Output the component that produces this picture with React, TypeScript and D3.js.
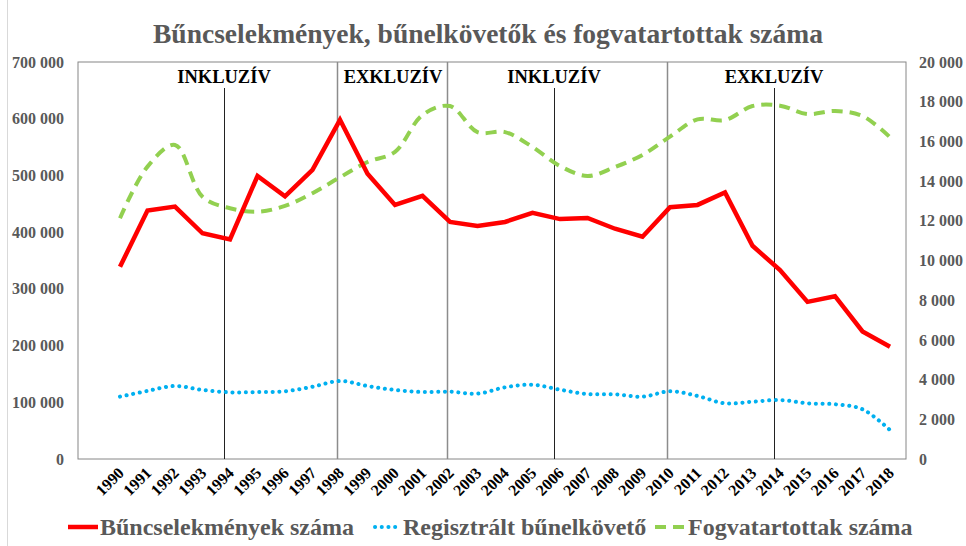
import React from 'react';
import * as d3 from 'd3';

// years on the x axis
const years = d3.range(1990, 2019).map(String);

// Bűncselekmények száma (left axis)
const crimes = [339000, 438000, 445000, 398000, 387000, 499000, 463000, 510000, 598000, 503000,
  448000, 464000, 418000, 411000, 418000, 434000, 423000, 425000, 406000, 392000,
  444000, 448000, 470000, 376000, 333000, 277000, 287000, 225000, 198000];

// Regisztrált bűnelkövető (left axis)
const offenders = [110000, 120000, 128700, 121700, 117600, 118100, 119400, 127500, 137500, 128700,
  121700, 118100, 118700, 115200, 126400, 131000, 122200, 114600, 114100, 109900,
  119400, 111100, 98200, 101000, 104000, 98200, 96500, 87600, 51000];

// Fogvatartottak száma (right axis)
const prisoners = [12130, 14730, 15820, 13210, 12630, 12460, 12750, 13390, 14190, 14960,
  15470, 17330, 17780, 16470, 16470, 15720, 14760, 14260, 14710, 15320,
  16240, 17110, 17080, 17780, 17800, 17380, 17530, 17280, 16210];

const leftTicks = [0, 100000, 200000, 300000, 400000, 500000, 600000, 700000];
const rightTicks = [0, 2000, 4000, 6000, 8000, 10000, 12000, 14000, 16000, 18000, 20000];

// vertical separators
const majorLines = ['1998', '2002', '2010'];
const minorLines = ['1994', '2006', '2014'];
const periods = [
  { label: 'INKLUZÍV', at: '1994' },
  { label: 'EXKLUZÍV', at: '1998' },
  { label: 'INKLUZÍV', at: '2006' },
  { label: 'EXKLUZÍV', at: '2014' },
];

const title = 'Bűncselekmények, bűnelkövetők és fogvatartottak száma';
const serif = '"Liberation Serif", "Times New Roman", serif';
const gray = '#595959';

const plot = { left: 78, right: 906, top: 62, bottom: 459 };

export default function App() {
  const x = d3.scalePoint().domain(years).range([120, 890]);
  const yL = d3.scaleLinear().domain([0, 700000]).range([plot.bottom, plot.top]);
  const yR = d3.scaleLinear().domain([0, 20000]).range([plot.bottom, plot.top]);
  const fmt = (v: number) => d3.format(',')(v).replace(/,/g, ' ');
  const txt = (size: number, color: string) => ({ fontFamily: serif, fontWeight: 'bold' as const, fontSize: size, fill: color });

  const redLine = d3.line<number>().x((_, i) => x(years[i])!).y(d => yL(d))(crimes)!;
  const blueLine = d3.line<number>().x((_, i) => x(years[i])!).y(d => yL(d))
    .curve(d3.curveCatmullRom.alpha(0.5))(offenders)!;
  const greenLine = d3.line<number>().x((_, i) => x(years[i])!).y(d => yR(d))
    .curve(d3.curveCatmullRom.alpha(0.5))(prisoners)!;

  const legendY = 527;

  return (
    <svg width={966} height={546} style={{ position: 'absolute', left: 0, top: 0, background: '#fff' }}>
      <line x1={7.5} x2={7.5} y1={0} y2={546} stroke="#d9d9d9" />
      <text x={488} y={43} textAnchor="middle" style={txt(27.5, gray)}>{title}</text>

      <rect x={plot.left} y={plot.top} width={plot.right - plot.left} height={plot.bottom - plot.top}
        fill="none" stroke="#868686" strokeWidth={1} />

      {majorLines.map(yr => (
        <line key={yr} x1={Math.round(x(yr)!) - 2.5} x2={Math.round(x(yr)!) - 2.5} y1={plot.top} y2={plot.bottom}
          stroke="#8c8c8c" strokeWidth={1.5} />
      ))}
      {minorLines.map(yr => (
        <line key={yr} x1={Math.round(x(yr)!) - 5.5} x2={Math.round(x(yr)!) - 5.5} y1={88} y2={plot.bottom}
          stroke="#222" strokeWidth={1} />
      ))}
      {periods.map((p, i) => {
        const cx = i === 1 ? (x('1998')! + x('2002')!) / 2 - 2 : x(p.at)! - 6;
        return (
          <text key={i} x={cx} y={83} textAnchor="middle" style={txt(18.5, '#000')}>
            {p.label}
          </text>
        );
      })}

      {leftTicks.map(t => (
        <text key={t} x={64} y={yL(t)} dy="0.35em" textAnchor="end" style={txt(16, gray)}>
          {fmt(t)}
        </text>
      ))}
      {rightTicks.map(t => (
        <text key={t} x={919} y={yR(t)} dy="0.35em" textAnchor="start" style={txt(16, gray)}>
          {fmt(t)}
        </text>
      ))}
      {years.map(yr => (
        <text key={yr} transform={`translate(${x(yr)! + 5},${474}) rotate(-45)`} textAnchor="end"
          style={txt(16, '#000')}>{yr}</text>
      ))}

      <path d={greenLine} fill="none" stroke="#92D050" strokeWidth={4} strokeDasharray="11 7" />
      <path d={blueLine} fill="none" stroke="#00B0F0" strokeWidth={4} strokeLinecap="round" strokeDasharray="0.1 6.6" />
      <path d={redLine} fill="none" stroke="#FF0000" strokeWidth={4.5} strokeLinejoin="miter" />

      <line x1={68} x2={98} y1={legendY} y2={legendY} stroke="#FF0000" strokeWidth={4.5} />
      <text x={100} y={legendY + 8} style={txt(24, gray)}>Bűncselekmények száma</text>
      <line x1={375} x2={396} y1={legendY} y2={legendY} stroke="#00B0F0" strokeWidth={4} strokeLinecap="round" strokeDasharray="0.1 6.6" />
      <text x={403} y={legendY + 8} style={txt(24, gray)}>Regisztrált bűnelkövető</text>
      <line x1={655} x2={686} y1={legendY} y2={legendY} stroke="#92D050" strokeWidth={4} strokeDasharray="11 7" />
      <text x={688} y={legendY + 8} style={txt(24, gray)}>Fogvatartottak száma</text>
    </svg>
  );
}
